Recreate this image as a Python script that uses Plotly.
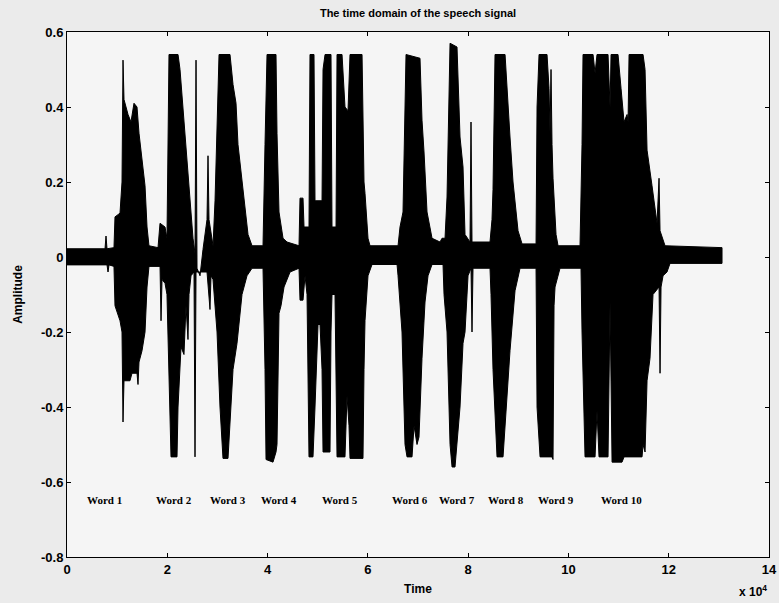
import plotly.graph_objects as go

# Waveform envelope (time in units of 1e4 samples)
px_to_t = lambda p: round((p - 67) / 50.14, 3)

upper_px = [67, 105, 106, 107, 114, 115, 120, 122, 123, 124, 128, 131, 134, 137, 139, 142, 145, 147, 149,
            158, 160, 165, 167, 169, 178, 180, 185, 190, 193, 195, 196, 197, 200, 203, 207, 208, 209, 213,
            215, 219, 230, 233, 236, 238, 242, 245, 248, 252, 263, 265, 267, 276, 277, 279, 283, 287, 299,
            300, 303, 304, 309, 310, 314, 315, 322, 323, 325, 331, 332, 336, 337, 342, 345, 348, 350, 362,
            364, 365, 368, 370, 398, 400, 403, 406, 420, 422, 424, 427, 432, 440, 442, 445, 447, 450, 457,
            460, 463, 465, 470, 471, 472, 490, 492, 493, 495, 505, 507, 510, 513, 518, 522, 536, 537, 539,
            547, 549, 550, 551, 552, 553, 556, 558, 580, 582, 583, 593, 595, 597, 608, 610, 611, 618, 621,
            624, 627, 628, 629, 643, 645, 647, 652, 657, 659, 660, 665, 722]
upper_amp = [0.022, 0.022, 0.056, 0.022, 0.025, 0.107, 0.117, 0.2, 0.525, 0.42, 0.38, 0.36, 0.41, 0.40, 0.33,
             0.26, 0.19, 0.08, 0.03, 0.025, 0.09, 0.08, 0.05, 0.54, 0.54, 0.50, 0.33, 0.15, 0.05, 0.01, 0.525,
             -0.03, -0.05, 0.02, 0.1, 0.27, 0.1, 0.03, 0.15, 0.54, 0.54, 0.46, 0.41, 0.3, 0.2, 0.13, 0.06, 0.03,
             0.03, 0.3, 0.54, 0.54, 0.33, 0.12, 0.05, 0.04, 0.03, 0.157, 0.157, 0.08, 0.08, 0.54, 0.54, 0.15,
             0.15, 0.5, 0.54, 0.54, 0.08, 0.08, 0.54, 0.54, 0.4, 0.39, 0.54, 0.54, 0.2, 0.17, 0.05, 0.03, 0.03,
             0.08, 0.12, 0.54, 0.53, 0.365, 0.28, 0.12, 0.05, 0.04, 0.05, 0.05, 0.16, 0.57, 0.56, 0.32, 0.24,
             0.06, 0.04, 0.36, 0.04, 0.04, 0.10, 0.18, 0.54, 0.54, 0.44, 0.32, 0.2, 0.07, 0.035, 0.035, 0.4,
             0.54, 0.54, 0.45, 0.33, 0.5, 0.3, 0.21, 0.06, 0.03, 0.03, 0.3, 0.54, 0.54, 0.49, 0.54, 0.54, 0.4,
             0.54, 0.54, 0.45, 0.36, 0.38, 0.36, 0.54, 0.54, 0.5, 0.285, 0.19, 0.09, 0.21, 0.07, 0.03, 0.025]

lower_px = [67, 107, 108, 109, 114, 115, 120, 122, 123, 124, 130, 132, 137, 138, 139, 142, 145, 147, 149,
            160, 161, 162, 165, 167, 169, 171, 177, 178, 181, 184, 186, 188, 189, 191, 194, 195, 196, 207,
            210, 211, 213, 217, 220, 223, 228, 231, 233, 237, 242, 247, 252, 263, 265, 266, 273, 276, 277,
            279, 281, 284, 290, 299, 300, 303, 305, 307, 309, 313, 315, 318, 320, 322, 323, 330, 331, 332,
            335, 337, 345, 347, 349, 350, 363, 364, 365, 368, 372, 397, 398, 402, 405, 407, 412, 414, 417,
            419, 422, 425, 428, 432, 443, 444, 447, 450, 452, 455, 457, 460, 463, 465, 468, 471, 472, 473,
            490, 491, 493, 497, 503, 507, 510, 515, 520, 536, 537, 540, 552, 553, 554, 555, 560, 581, 582,
            585, 595, 597, 599, 608, 610, 612, 622, 624, 642, 643, 645, 647, 650, 653, 659, 660, 661, 663,
            667, 670, 722]
lower_amp = [-0.021, -0.021, -0.04, -0.021, -0.025, -0.13, -0.17, -0.2, -0.44, -0.33, -0.33, -0.31, -0.31,
             -0.34, -0.28, -0.25, -0.2, -0.08, -0.025, -0.025, -0.17, -0.06, -0.07, -0.1, -0.31, -0.533,
             -0.533, -0.4, -0.24, -0.26, -0.13, -0.22, -0.1, -0.05, -0.04, -0.533, -0.04, -0.04, -0.14, -0.05,
             -0.06, -0.2, -0.4, -0.537, -0.537, -0.4, -0.3, -0.23, -0.1, -0.05, -0.03, -0.03, -0.3, -0.54,
             -0.547, -0.52, -0.5, -0.15, -0.13, -0.08, -0.04, -0.03, -0.115, -0.115, -0.05, -0.1, -0.533,
             -0.533, -0.4, -0.18, -0.18, -0.3, -0.52, -0.52, -0.2, -0.1, -0.1, -0.533, -0.533, -0.37, -0.45,
             -0.537, -0.537, -0.3, -0.17, -0.05, -0.02, -0.02, -0.05, -0.2, -0.5, -0.533, -0.533, -0.45, -0.5,
             -0.48, -0.27, -0.12, -0.05, -0.02, -0.02, -0.1, -0.2, -0.5, -0.56, -0.56, -0.5, -0.4, -0.23, -0.2,
             -0.05, -0.03, -0.2, -0.03, -0.03, -0.1, -0.3, -0.533, -0.533, -0.38, -0.25, -0.09, -0.03, -0.03,
             -0.4, -0.533, -0.533, -0.54, -0.13, -0.08, -0.03, -0.03, -0.2, -0.533, -0.533, -0.41, -0.533,
             -0.533, -0.12, -0.547, -0.547, -0.533, -0.533, -0.5, -0.52, -0.33, -0.27, -0.1, -0.08, -0.31,
             -0.08, -0.05, -0.04, -0.017, -0.017]

word_labels = ["Word 1", "Word 2", "Word 3", "Word 4", "Word 5",
               "Word 6", "Word 7", "Word 8", "Word 9", "Word 10"]
word_px = [104, 174, 228, 279, 340, 410, 457, 506, 556, 621]
word_y = -0.648

x_ticks = [0, 2, 4, 6, 8, 10, 12, 14]
y_ticks = [0.6, 0.4, 0.2, 0, -0.2, -0.4, -0.6, -0.8]
y_ticktext = ["0.6", "0.4", "0.2", "0", "-0.2", "-0.4", "-0.6", "-0.8"]

upper_t = [px_to_t(p) for p in upper_px]
lower_t = [px_to_t(p) for p in lower_px]

xs = upper_t + lower_t[::-1]
ys = upper_amp + lower_amp[::-1]

fig = go.Figure()
fig.add_trace(go.Scatter(x=xs, y=ys, mode="lines", fill="toself",
                         fillcolor="black", line=dict(color="black", width=1),
                         hoverinfo="skip", showlegend=False))

for lbl, p in zip(word_labels, word_px):
    fig.add_annotation(x=px_to_t(p), y=word_y, text="<b>" + lbl + "</b>", showarrow=False,
                       font=dict(family="Liberation Serif", size=11, color="black"),
                       xanchor="center", yanchor="middle")

fig.add_annotation(x=1.0, y=-0.045, xref="paper", yref="paper", text="<b>x 10<sup>4</sup></b>",
                   showarrow=False, xanchor="right", yanchor="top",
                   font=dict(family="Arial, Liberation Sans", size=12, color="black"))

fig.update_layout(
    width=779, height=603,
    margin=dict(l=67, r=10, t=32, b=46, autoexpand=False),
    paper_bgcolor="#ebebeb", plot_bgcolor="#f5f5f5",
    title=dict(text="<b>The time domain of the speech signal</b>", x=0.5366, xanchor="center",
               y=0.978, yanchor="middle",
               font=dict(family="Arial, Liberation Sans", size=11, color="black")),
    font=dict(family="Arial, Liberation Sans", color="black"),
)
fig.update_xaxes(range=[0, 14], tickvals=x_ticks, ticktext=["<b>%d</b>" % v for v in x_ticks],
                 ticks="inside", ticklen=4, tickcolor="black", showline=True, linecolor="black",
                 linewidth=1, mirror="ticks", showgrid=False, zeroline=False, automargin=False,
                 tickfont=dict(size=13, family="Arial, Liberation Sans"),
                 title=dict(text="<b>Time</b>", font=dict(size=12), standoff=9))
fig.update_yaxes(range=[-0.8, 0.6], tickvals=y_ticks, ticktext=["<b>%s</b>" % t for t in y_ticktext],
                 ticks="inside", ticklen=4, tickcolor="black", showline=True, linecolor="black",
                 linewidth=1, mirror="ticks", showgrid=False, zeroline=False, automargin=False,
                 tickfont=dict(size=13, family="Arial, Liberation Sans"),
                 title=dict(text="<b>Amplitude</b>", font=dict(size=12), standoff=15))

fig.write_html("out.html", post_script="document.body.style.margin='0';",
               config={"displayModeBar": False})
